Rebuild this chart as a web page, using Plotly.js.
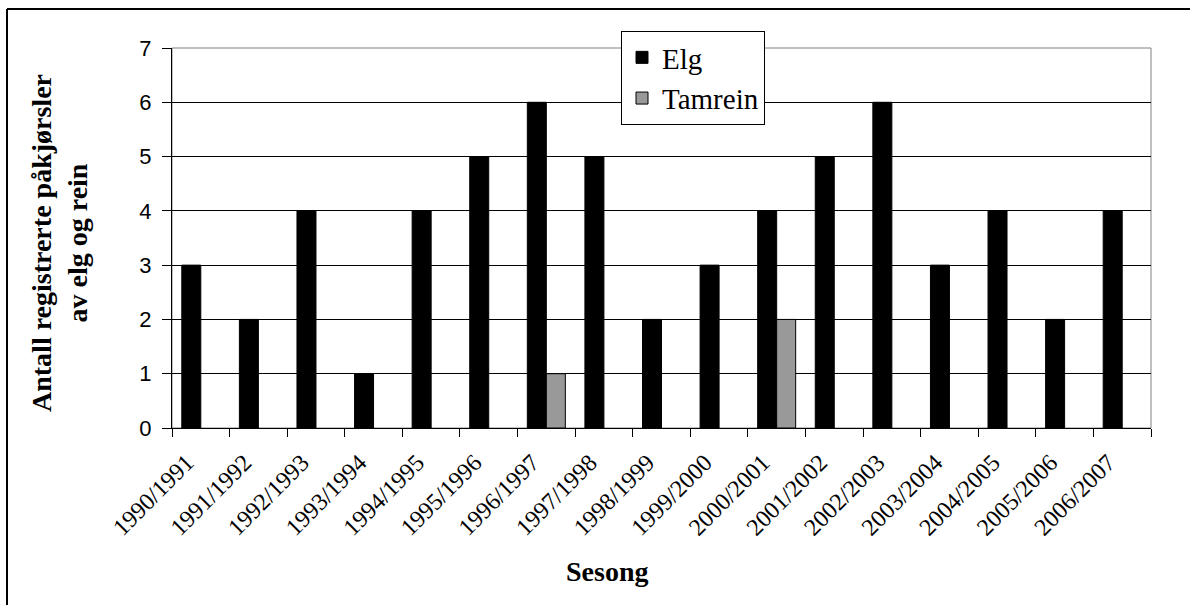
<!DOCTYPE html>
<html>
<head>
<meta charset="utf-8">
<script src="https://cdn.plot.ly/plotly-3.0.1.min.js"></script>
<style>
  html, body { margin: 0; padding: 0; background: #fff; }
  #chart { width: 1190px; height: 605px; }
</style>
</head>
<body>
<div id="chart"></div>
<script>
const seasons = ["1990/1991","1991/1992","1992/1993","1993/1994","1994/1995","1995/1996","1996/1997","1997/1998","1998/1999","1999/2000","2000/2001","2001/2002","2002/2003","2003/2004","2004/2005","2005/2006","2006/2007"];
const elg = [3,2,4,1,4,5,6,5,2,3,4,5,6,3,4,2,4];
const tamrein = [null,null,null,null,null,null,1,null,null,null,2,null,null,null,null,null,null];
const yTitle = "Antall registrerte påkjørsler<br>av elg og rein";
const xTitle = "Sesong";

const serif = "'Liberation Serif', 'Times New Roman', serif";
const sans = "'Liberation Sans', Arial, sans-serif";

const data = [
  { type: "bar", name: "Elg", x: seasons, y: elg,
    marker: { color: "#000000", line: { color: "#000000", width: 1 } } },
  { type: "bar", name: "Tamrein", x: seasons, y: tamrein,
    marker: { color: "#999999", line: { color: "#000000", width: 1 } } }
];

const L = 172, R = 1151, T = 48, B = 428;
const pw = R - L, ph = B - T;
const px = v => (v - L) / pw;
const py = v => (B - v) / ph;

const layout = {
  width: 1190, height: 605,
  font: { family: serif, size: 22, color: "#000" },
  margin: { l: L, r: 1190 - R, t: T, b: 605 - B, pad: 0 },
  paper_bgcolor: "#ffffff", plot_bgcolor: "#ffffff",
  barmode: "group", bargap: 0.34, bargroupgap: 0,
  showlegend: true,
  legend: {
    x: px(621), y: py(31), xanchor: "left", yanchor: "top",
    bgcolor: "#ffffff", bordercolor: "#000000", borderwidth: 1,
    font: { family: serif, size: 29, color: "#000" },
    itemwidth: 30
  },
  xaxis: {
    type: "category", tickangle: -45,
    tickfont: { family: serif, size: 24, color: "#000" },
    ticks: "outside", ticklen: 8, tickcolor: "#000", tickson: "boundaries",
    ticklabelstandoff: 10, ticklabelshift: -14,
    showline: true, linecolor: "#000", linewidth: 1,
    showgrid: false, zeroline: false, fixedrange: true
  },
  yaxis: {
    range: [0, 7], dtick: 1, tick0: 0,
    tickfont: { family: sans, size: 22, color: "#000" },
    ticks: "outside", ticklen: 9, tickcolor: "#000",
    ticklabelstandoff: 6,
    showline: true, linecolor: "#000", linewidth: 1,
    showgrid: true, gridcolor: "#000", gridwidth: 1,
    zeroline: false, fixedrange: true
  },
  shapes: [
    { type: "rect", xref: "paper", yref: "paper", x0: 0, x1: 1, y0: 0, y1: 1,
      line: { color: "#808080", width: 1 }, fillcolor: "rgba(0,0,0,0)", layer: "below" },
    { type: "line", xref: "paper", yref: "paper", x0: px(7), x1: px(1195), y0: py(9), y1: py(9),
      line: { color: "#000", width: 2 } },
    { type: "line", xref: "paper", yref: "paper", x0: px(7), x1: px(7), y0: py(9), y1: py(610),
      line: { color: "#000", width: 2 } }
  ],
  annotations: [
    { text: "<b>" + xTitle + "</b>", xref: "paper", yref: "paper",
      x: px(607), y: py(571), xanchor: "center", yanchor: "middle", showarrow: false,
      font: { family: serif, size: 28, color: "#000" } },
    { text: "<b>" + yTitle + "</b>", xref: "paper", yref: "paper",
      x: px(60), y: py(243), xanchor: "center", yanchor: "middle", showarrow: false,
      textangle: -90,
      font: { family: serif, size: 28, color: "#000" } }
  ]
};

Plotly.newPlot("chart", data, layout, { displayModeBar: false, staticPlot: true });
</script>
</body>
</html>
